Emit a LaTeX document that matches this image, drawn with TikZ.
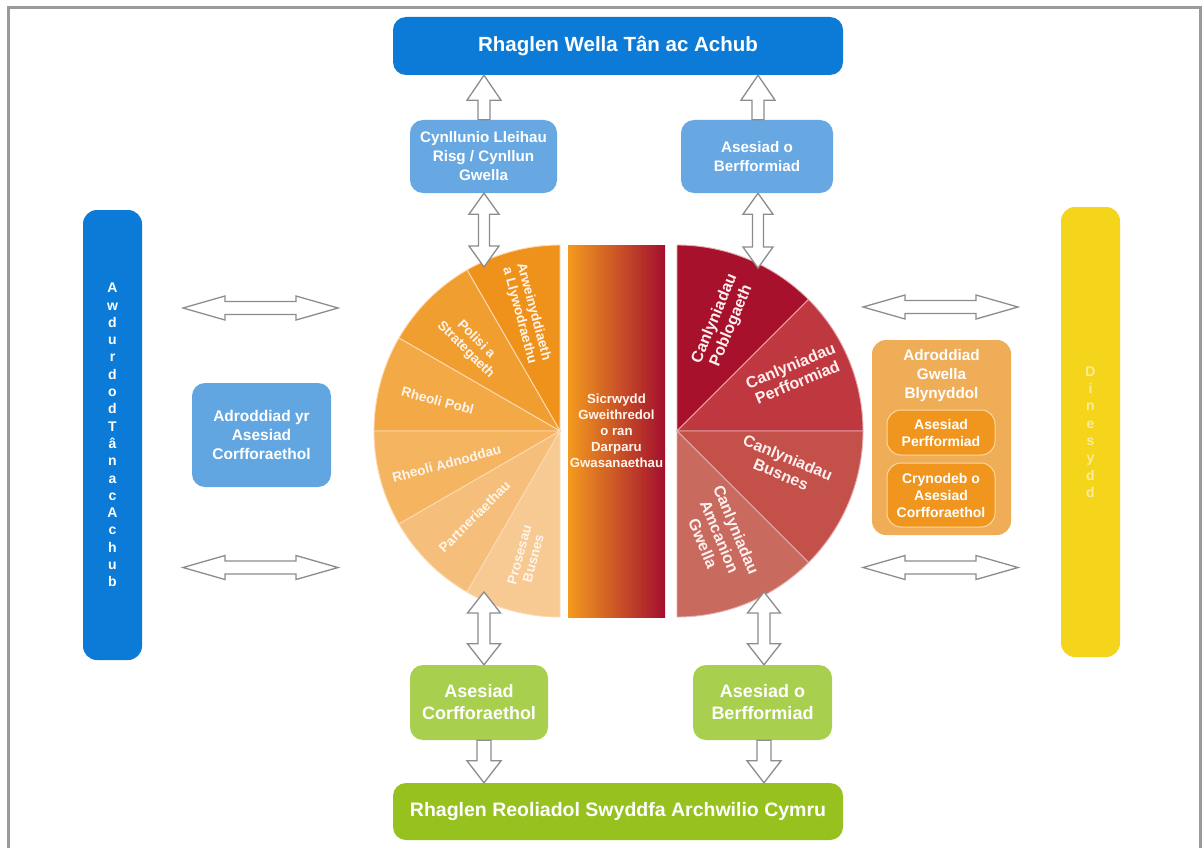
\documentclass[tikz,border=0pt]{standalone}
\usepackage{fontspec}
\setmainfont{Liberation Sans}
\usetikzlibrary{calc}
\definecolor{blueD}{HTML}{0B7BD7}
\definecolor{blueL}{HTML}{67A8E2}
\definecolor{greenD}{HTML}{96C11E}
\definecolor{greenL}{HTML}{A8CF4D}
\definecolor{yellowD}{HTML}{F5D51C}
\definecolor{orP}{HTML}{F0AD58}
\definecolor{orI}{HTML}{F0961E}
\definecolor{orLine}{HTML}{FBD8A0}
\definecolor{lA}{HTML}{EF921B}
\definecolor{lB}{HTML}{F19E31}
\definecolor{lC}{HTML}{F2A946}
\definecolor{lD}{HTML}{F4B460}
\definecolor{lE}{HTML}{F5BF7B}
\definecolor{lF}{HTML}{F7CA94}
\definecolor{rA}{HTML}{A8112B}
\definecolor{rB}{HTML}{C0383F}
\definecolor{rC}{HTML}{C4504A}
\definecolor{rD}{HTML}{C96A5E}
\definecolor{bandL}{HTML}{F39A1E}
\definecolor{bandM}{HTML}{DD5B24}
\definecolor{bandR}{HTML}{A30F2E}
\definecolor{arrgray}{HTML}{8C8C8C}
\definecolor{framegray}{HTML}{9A9A9A}
\newcommand\vdarrow[5]{\draw[barrow] (#1) -- ++(#3,-#5) -- ++({#4-#3},0) -- ($(#2)+(#4,#5)$) -- ++({#3-#4},0) -- (#2) -- ++(-#3,#5) -- ++({#3-#4},0) -- ($(#1)+(-#4,-#5)$) -- ++({#4-#3},0) -- cycle;}
\newcommand\uparr[5]{\draw[barrow] (#1) -- ++(#3,-#5) -- ++({#4-#3},0) -- ($(#2)+(#4,0)$) -- ($(#2)+(-#4,0)$) -- ($(#1)+(-#4,-#5)$) -- ++({#4-#3},0) -- cycle;}
\newcommand\downarr[5]{\draw[barrow] (#2) -- ++(#3,#5) -- ++({#4-#3},0) -- ($(#1)+(#4,0)$) -- ($(#1)+(-#4,0)$) -- ($(#2)+(-#4,#5)$) -- ++({#4-#3},0) -- cycle;}
\newcommand\hdarrow[5]{\draw[barrow] (#1) -- ++(#5,#3) -- ++(0,{#4-#3}) -- ($(#2)+(-#5,#4)$) -- ++(0,{#3-#4}) -- (#2) -- ++(-#5,-#3) -- ++(0,{#3-#4}) -- ($(#1)+(#5,-#4)$) -- ++(0,{#4-#3}) -- cycle;}
\begin{document}
\begin{tikzpicture}[x=1pt,y=1pt,
  box/.style={rounded corners=13pt, text=white, align=center, inner sep=0pt},
  barrow/.style={fill=white, draw=arrgray, line width=1.3pt, line join=miter},
  ltxt/.style={text=white!92!orange, align=center, inner sep=0pt, font=\fontsize{13.5}{14.5}\selectfont\bfseries},
  rtxt/.style={text=white!94!red, align=center, inner sep=0pt, font=\fontsize{16}{18}\selectfont\bfseries},
  vtxt/.style={align=center, inner sep=0pt, font=\fontsize{14}{17.3}\selectfont\bfseries}]
\useasboundingbox (0,0) rectangle (1202,-848);
\fill[white] (0,0) rectangle (1202,-848);
\draw[framegray, line width=3pt] (8.5,-848) -- (8.5,-7.5) -- (1200,-7.5) -- (1200,-848);

% main boxes
\node[box, fill=blueD, minimum width=450, minimum height=58, font=\fontsize{20.5}{24}\selectfont\bfseries] (top) at (618,-46) {Rhaglen Wella Tân ac Achub};
\node[box, fill=blueL, minimum width=147, minimum height=73, font=\fontsize{15.2}{19}\selectfont\bfseries] (tl) at (483.5,-156.5) {Cynllunio Lleihau\\Risg / Cynllun\\Gwella};
\node[box, fill=blueL, minimum width=152, minimum height=73, font=\fontsize{15.2}{19}\selectfont\bfseries] (tr) at (757,-156.5) {Asesiad o\\Berfformiad};
\node[box, fill=blueD, minimum width=59, minimum height=450, rounded corners=14pt] (lbar) at (112.5,-435) {};
\node[vtxt, text=white] (lbartxt) at (lbar.center) {A\\w\\d\\u\\r\\d\\o\\d\\T\\â\\n\\a\\c\\A\\c\\h\\u\\b};
\node[box, fill=yellowD, minimum width=59, minimum height=450, rounded corners=14pt] (rbar) at (1090.5,-432) {};
\node[vtxt, text=white!55!yellowD] (rbartxt) at (rbar.center) {D\\i\\n\\e\\s\\y\\d\\d};
\node[box, fill=blueL!95!blueD, minimum width=139, minimum height=104, font=\fontsize{15.5}{19}\selectfont\bfseries] (lbox) at (261.5,-435) {Adroddiad yr\\Asesiad\\Corfforaethol};
\node[box, fill=orP, minimum width=139, minimum height=195, rounded corners=14pt] (panel) at (941.5,-437.5) {};
\node[text=white, align=center, inner sep=0pt, font=\fontsize{15.3}{19}\selectfont\bfseries] (ptitle) at (941.5,-376) {Adroddiad\\Gwella\\Blynyddol};
\node[box, fill=orI, draw=orLine, line width=1pt, rounded corners=14pt, minimum width=108, minimum height=45, font=\fontsize{14}{17}\selectfont\bfseries] (in1) at (941,-432.5) {Asesiad\\Perfformiad};
\node[box, fill=orI, draw=orLine, line width=1pt, rounded corners=14pt, minimum width=108, minimum height=64, font=\fontsize{14}{17}\selectfont\bfseries] (in2) at (941,-495) {Crynodeb o\\Asesiad\\Corfforaethol};
\node[box, fill=greenL, minimum width=138, minimum height=75, font=\fontsize{18}{22}\selectfont\bfseries] (gl) at (479,-702.5) {Asesiad\\Corfforaethol};
\node[box, fill=greenL, minimum width=139, minimum height=75, font=\fontsize{18}{22}\selectfont\bfseries] (gr) at (762.5,-702.5) {Asesiad o\\Berfformiad};
\node[box, fill=greenD, minimum width=450, minimum height=57, font=\fontsize{19.5}{23}\selectfont\bfseries] (bot) at (618,-811.5) {Rhaglen Reoliadol Swyddfa Archwilio Cymru};

% circle halves
\coordinate (CL) at (560,-431);
\coordinate (CR) at (677,-431);
\foreach \a/\c in {90/lA,120/lB,150/lC,180/lD,210/lE,240/lF}{
  \filldraw[fill=\c, draw=white!70!orange, line width=0.9pt] (CL) -- ($(CL)+(\a:186)$) arc[start angle=\a, delta angle=30, radius=186] -- cycle;
}
\foreach \a/\c in {90/rA,45/rB,0/rC,-45/rD}{
  \filldraw[fill=\c, draw=white!60!rB, line width=0.9pt] (CR) -- ($(CR)+(\a:186)$) arc[start angle=\a, delta angle=-45, radius=186] -- cycle;
}
\node[left color=bandL, middle color=bandM, right color=bandR, minimum width=97, minimum height=372, inner sep=0pt] (band) at (616.5,-431) {};
\node[text=white!92!orange, align=center, inner sep=0pt, font=\fontsize{13.2}{16}\selectfont\bfseries] (bandtxt) at (band.center) {Sicrwydd\\Gweithredol\\o ran\\Darparu\\Gwasanaethau};

% slice labels
\node[ltxt, rotate=-75] (s1) at ($(CL)+(106:122)$) {Arweinyddiaeth\\a Llywodraethu};
\node[ltxt, rotate=-45] (s2) at ($(CL)+(136:124)$) {Polisi a\\Strategaeth};
\node[ltxt, rotate=-15] (s3) at ($(CL)+(166:126)$) {Rheoli Pobl};
\node[ltxt, rotate=15] (s4) at ($(CL)+(196:118)$) {Rheoli Adnoddau};
\node[ltxt, rotate=45] (s5) at ($(CL)+(225:121)$) {Partneriaethau};
\node[ltxt, rotate=75] (s6) at ($(CL)+(255:130)$) {Prosesau\\Busnes};
\node[rtxt, rotate=67.5] (r1) at ($(CR)+(67:118)$) {Canlyniadau\\Poblogaeth};
\node[rtxt, rotate=22.5] (r2) at ($(CR)+(26:130)$) {Canlyniadau\\Perfformiad};
\node[rtxt, rotate=-22.5] (r3) at ($(CR)+(-18:113)$) {Canlyniadau\\Busnes};
\node[rtxt, rotate=-67.5] (r4) at ($(CR)+(-68:114)$) {Canlyniadau\\Amcanion\\Gwella};

% arrow coordinates
\coordinate (xl) at (484,0);
\coordinate (xtr) at (758,0);
\coordinate (xbr) at (764,0);
\coordinate (cTL) at (484,-267);
\coordinate (cTR) at (758,-268);
\coordinate (cBL) at (484,-592);
\coordinate (cBR) at (764,-592);
\coordinate (hL1a) at (183,-308);
\coordinate (hL1b) at (338,-308);
\coordinate (hL2a) at (183,-567.5);
\coordinate (hL2b) at (338,-567.5);
\coordinate (hR1a) at (863,-307);
\coordinate (hR1b) at (1018,-307);
\coordinate (hR2a) at (863,-567.5);
\coordinate (hR2b) at (1018,-567.5);

% arrows
\uparr{xl |- top.south}{xl |- tl.north}{17}{6}{25}
\uparr{xtr |- top.south}{xtr |- tr.north}{17}{6}{25}
\vdarrow{xl |- tl.south}{cTL}{15}{5.5}{21}
\vdarrow{xtr |- tr.south}{cTR}{15}{5.5}{21}
\vdarrow{cBL}{xl |- gl.north}{16.5}{6}{21}
\vdarrow{cBR}{xbr |- gr.north}{16.5}{6}{21}
\downarr{xl |- gl.south}{xl |- bot.north}{17}{7}{22}
\downarr{xbr |- gr.south}{xbr |- bot.north}{17}{7}{22}
\hdarrow{hL1a}{hL1b}{12}{6.5}{42}
\hdarrow{hL2a}{hL2b}{12}{6.5}{42}
\hdarrow{hR1a}{hR1b}{12}{6.5}{42}
\hdarrow{hR2a}{hR2b}{12}{6.5}{42}
\end{tikzpicture}
\end{document}
